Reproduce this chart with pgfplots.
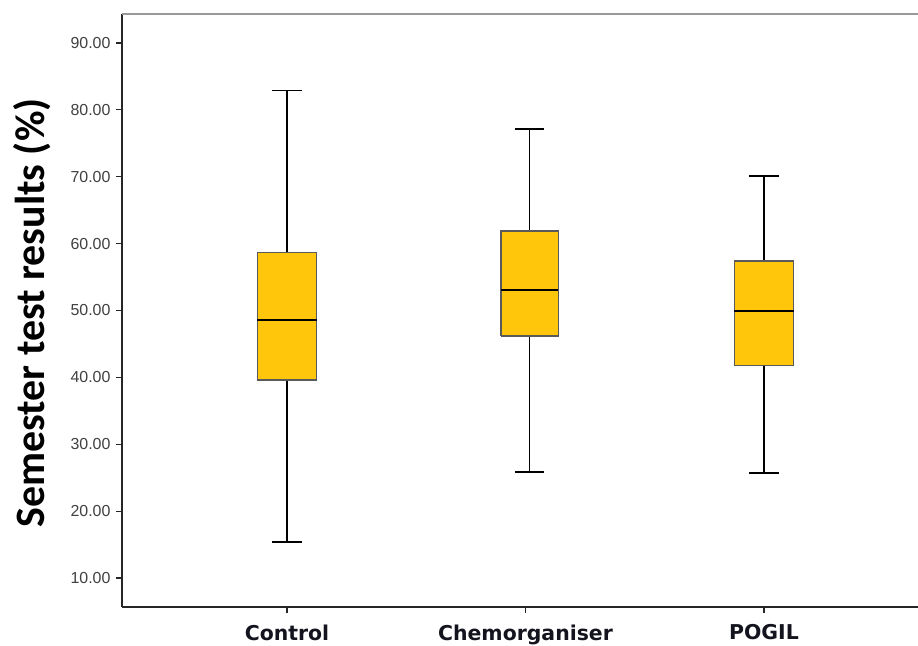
\documentclass[border=0pt]{standalone}
\usepackage{pgfplots}
\pgfplotsset{compat=1.18}
\usepackage{fontspec}
\setmainfont{Liberation Sans}
\newfontfamily\labelfont{Carlito}
\newfontfamily\catfont{DejaVu Sans}
\definecolor{boxfill}{RGB}{255,198,12}
\definecolor{boxedge}{RGB}{90,90,90}
\definecolor{ticktext}{RGB}{64,64,64}
\definecolor{cattext}{RGB}{20,20,30}

\begin{document}
\begin{tikzpicture}
\begin{axis}[
  scale only axis, width=796bp, height=593bp,
  xmin=-0.692, xmax=2.646, ymin=5.66, ymax=94.34,
  axis x line*=bottom, axis y line*=left,
  axis line style={line width=1.2bp, black!85},
  tick align=outside, major tick length=6bp,
  tick style={black!85, line width=1.2bp},
  xtick={0,1,2}, xticklabels={Control, Chemorganiser, POGIL},
  xticklabel style={font=\catfont\bfseries\fontsize{20.5}{20.5}\selectfont, text=cattext, yshift=-8bp},
  ytick={10,20,30,40,50,60,70,80,90},
  yticklabels={10.00,20.00,30.00,40.00,50.00,60.00,70.00,80.00,90.00},
  yticklabel style={font=\fontsize{16}{16}\selectfont, text=ticktext, xshift=-2bp},
  ylabel={Semester test results (\%)},
  ylabel style={font=\labelfont\bfseries\fontsize{42}{42}\selectfont,
    at={(axis description cs:-0.113,0.496)}, anchor=center},
  unbounded coords=jump,
  clip=false,
]
% whiskers with caps: lower whisker, lower quartile / upper quartile, upper whisker
\addplot[black, line width=1.8bp, mark=none] coordinates {
  (0,15.4) (0,39.6) (nan,nan) (-0.0625,15.4) (0.0625,15.4) (nan,nan)
  (0,58.7) (0,82.9) (nan,nan) (-0.0625,82.9) (0.0625,82.9)};
\addplot[black, line width=1.8bp, mark=none] coordinates {
  (1.017,25.8) (1.017,46.2) (nan,nan) (0.955,25.8) (1.079,25.8) (nan,nan)
  (1.017,61.9) (1.017,77.1) (nan,nan) (0.955,77.1) (1.079,77.1)};
\addplot[black, line width=1.8bp, mark=none] coordinates {
  (2,25.7) (2,41.8) (nan,nan) (1.9375,25.7) (2.0625,25.7) (nan,nan)
  (2,57.4) (2,70.1) (nan,nan) (1.9375,70.1) (2.0625,70.1)};
% boxes: lower quartile to upper quartile
\addplot[draw=boxedge, fill=boxfill, line width=1.2bp, mark=none] coordinates {
  (-0.125,39.6) (0.125,39.6) (0.125,58.7) (-0.125,58.7) (-0.125,39.6)};
\addplot[draw=boxedge, fill=boxfill, line width=1.2bp, mark=none] coordinates {
  (0.897,46.2) (1.137,46.2) (1.137,61.9) (0.897,61.9) (0.897,46.2)};
\addplot[draw=boxedge, fill=boxfill, line width=1.2bp, mark=none] coordinates {
  (1.875,41.8) (2.125,41.8) (2.125,57.4) (1.875,57.4) (1.875,41.8)};
% medians
\addplot[black, line width=2bp, mark=none] coordinates {
  (-0.125,48.6) (0.125,48.6) (nan,nan)
  (0.897,53.0) (1.137,53.0) (nan,nan)
  (1.875,49.9) (2.125,49.9)};
% top border line
\draw[black!40, line width=1.2bp] (rel axis cs:0,1) -- (rel axis cs:1,1);
\end{axis}
\pgfresetboundingbox
\path[use as bounding box] (-122bp,-39bp) rectangle (796bp,607bp);
\end{tikzpicture}
\end{document}
